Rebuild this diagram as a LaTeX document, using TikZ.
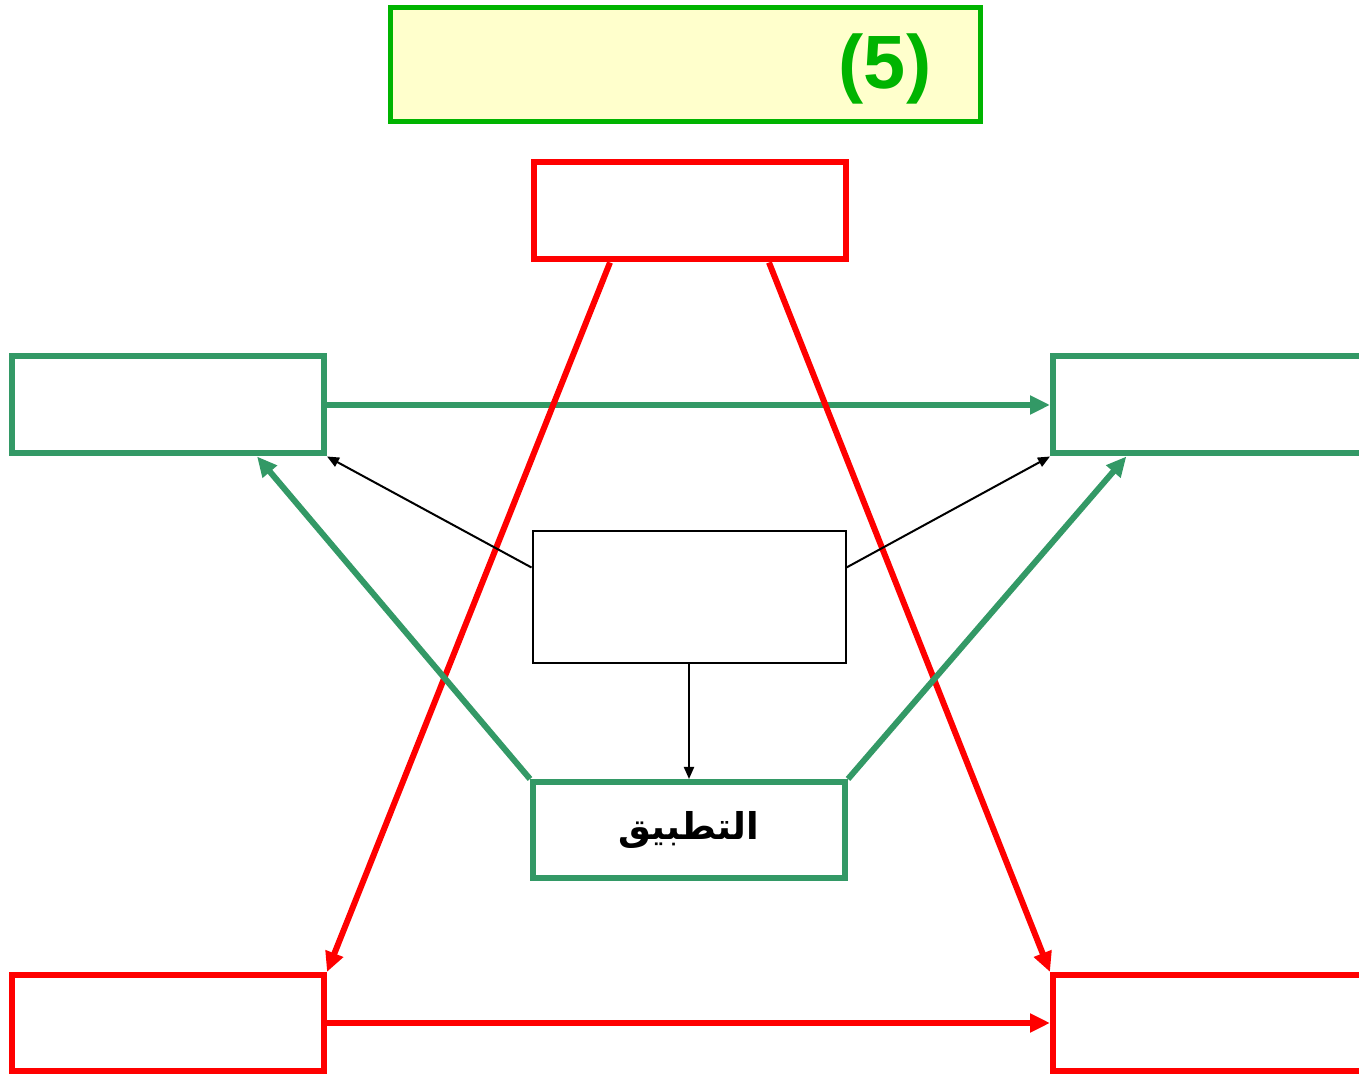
\documentclass[tikz,border=0pt]{standalone}
\usepackage{fontspec}
\setmainfont{Liberation Sans}
\newfontfamily\arabicfont[Script=Arabic]{DejaVu Sans}
\TeXXeTstate=1
\definecolor{titlegreen}{RGB}{0, 180, 0}
\definecolor{titlefill}{RGB}{255, 255, 204}
\definecolor{boxgreen}{RGB}{51, 153, 102}
\definecolor{boxred}{RGB}{255, 0, 0}
\usetikzlibrary{arrows.meta, positioning, calc}

\begin{document}
\begin{tikzpicture}[
    redbox/.style={draw=boxred, line width=0.12cm, minimum width=6.24cm, minimum height=1.94cm},
    greenbox/.style={draw=boxgreen, line width=0.12cm, minimum width=6.24cm, minimum height=1.94cm},
    bigtip/.style={-{Triangle[length=0.4cm, width=0.36cm]}, line width=0.12cm},
    smalltip/.style={-{Triangle[length=0.24cm, width=0.2cm]}, line width=0.04cm}
  ]
  \useasboundingbox (0, 0) rectangle (27.18, 21.5);

  % Title
  \node[draw=titlegreen, fill=titlefill, line width=0.1cm, minimum width=11.8cm, minimum height=2.28cm] (title) at (13.70, 20.20) {};
  \node[font=\bfseries\fontsize{43}{45}\selectfont, text=titlegreen] (num) at (17.70, 20.12) {(5)};

  % Boxes
  \node[redbox] (top) at (13.79, 17.28) {};
  \node[greenbox] (lgreen) at (3.36, 13.40) {};
  \node[greenbox] (rgreen) at (24.18, 13.40) {};
  \node[draw, line width=0.04cm, minimum width=6.26cm, minimum height=2.64cm] (mid) at (13.78, 9.56) {};
  \node[greenbox, minimum height=1.92cm] (apply) at (13.78, 4.90) {\arabicfont\bfseries\fontsize{21}{23}\selectfont\beginR التطبيق\endR};
  \node[redbox, minimum height=1.92cm] (lred) at (3.36, 1.04) {};
  \node[redbox, minimum height=1.92cm] (rred) at (24.18, 1.04) {};

  % Horizontal arrows
  \draw[bigtip, boxgreen] (lgreen.east) -- (rgreen.west);
  \draw[bigtip, boxred] (lred.east) -- (rred.west);

  % Red diagonals
  \draw[bigtip, boxred] ($(top.south west)!0.25!(top.south east)$) -- (lred.north east);
  \draw[bigtip, boxred] ($(top.south west)!0.75!(top.south east)$) -- (rred.north west);

  % Green diagonals
  \draw[bigtip, boxgreen] (apply.north west) -- ($(lgreen.south west)!0.78!(lgreen.south east)$);
  \draw[bigtip, boxgreen] (apply.north east) -- ($(rgreen.south west)!0.24!(rgreen.south east)$);

  % Thin arrows
  \draw[smalltip] ($(mid.north west)!0.28!(mid.south west)$) -- (lgreen.south east);
  \draw[smalltip] ($(mid.north east)!0.28!(mid.south east)$) -- (rgreen.south west);
  \draw[smalltip] (mid.south) -- (apply.north);
\end{tikzpicture}
\end{document}
